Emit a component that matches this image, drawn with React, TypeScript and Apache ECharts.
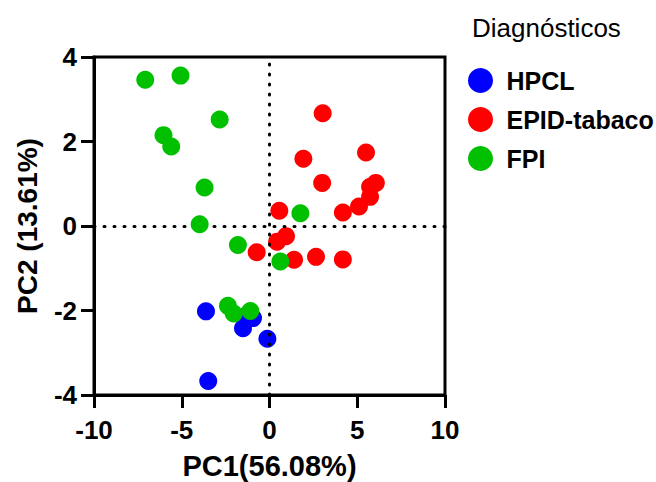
import React, { useEffect, useRef } from "react";
import * as echarts from "echarts";

const seriesNames = ["HPCL", "EPID-tabaco", "FPI"];
const seriesColors = ["#0000FF", "#FF0000", "#00C000"];

const hpclX = [-3.62, -3.49, -1.51, -0.94, -1.25, -0.12];
const hpclY = [-2.02, -3.67, -2.42, -2.18, -2.1, -2.67];

const epidX = [3.03, 5.5, 1.93, 3.0, 6.06, 5.73, 5.73, 5.1, 4.18, 0.56, 0.94, 0.43, -0.73, 1.4, 2.65, 4.18];
const epidY = [2.67, 1.74, 1.59, 1.02, 1.02, 0.93, 0.69, 0.46, 0.32, 0.36, -0.24, -0.37, -0.62, -0.8, -0.73, -0.79];

const fpiX = [-7.08, -5.07, -2.84, -6.04, -5.6, -3.7, -3.98, -1.8, 1.76, 0.62, -2.37, -2.04, -1.09];
const fpiY = [3.46, 3.56, 2.52, 2.15, 1.88, 0.91, 0.04, -0.45, 0.3, -0.84, -1.89, -2.07, -2.01];

const xTicks = { min: -10, max: 10, interval: 5 };
const yTicks = { min: -4, max: 4, interval: 2 };

const FONT = "'Liberation Sans', Arial, sans-serif";
const CHART_W = 720;

function zip(xs: number[], ys: number[]) {
  return xs.map((x, i) => [x, ys[i]]);
}

export default function App() {
  const ref = useRef<HTMLDivElement>(null);
  useEffect(() => {
    if (!ref.current) return;
    const chart = echarts.init(ref.current, null, { renderer: "svg" });
    const datas = [zip(hpclX, hpclY), zip(epidX, epidY), zip(fpiX, fpiY)];
    const series: any[] = datas.map((d, i) => ({
      name: seriesNames[i],
      type: "scatter",
      data: d,
      symbol: "circle",
      symbolSize: 18,
      itemStyle: { color: seriesColors[i], opacity: 1 },
      z: 3 + i,
    }));
    series.push({
      type: "scatter",
      data: [],
      silent: true,
      z: 1,
      markLine: {
        silent: true,
        symbol: ["none", "none"],
        label: { show: false },
        lineStyle: { color: "#000", width: 3, type: [1, 9], cap: "round" },
        data: [{ xAxis: 0 }, { yAxis: 0 }],
      },
    });
    chart.setOption({
      animation: false,
      textStyle: { fontFamily: FONT },
      title: {
        text: "Diagnósticos",
        left: 467,
        top: 10,
        textStyle: { fontFamily: FONT, fontSize: 26, fontWeight: "normal", color: "#000" },
      },
      legend: {
        data: seriesNames,
        orient: "vertical",
        left: 468,
        top: 68,
        padding: 0,
        itemWidth: 42,
        itemHeight: 25,
        itemGap: 14,
        icon: "circle",
        textStyle: { fontFamily: FONT, fontSize: 25, fontWeight: "bold", color: "#000" },
      },
      grid: {
        left: 94,
        right: CHART_W - 445,
        top: 57,
        bottom: 87,
        show: true,
        borderColor: "#000",
        borderWidth: 3,
        containLabel: false,
        outerBoundsMode: "none",
      },
      xAxis: {
        type: "value",
        min: xTicks.min,
        max: xTicks.max,
        interval: xTicks.interval,
        name: "PC1(56.08%)",
        nameLocation: "middle",
        nameGap: 56,
        nameTextStyle: { fontFamily: FONT, fontSize: 29, fontWeight: "bold", color: "#000" },
        axisLine: { show: true, onZero: false, lineStyle: { color: "#000", width: 3 } },
        axisTick: { show: true, length: 13, lineStyle: { color: "#000", width: 3 } },
        axisLabel: { fontFamily: FONT, fontSize: 26, fontWeight: "bold", color: "#000", margin: 22 },
        splitLine: { show: false },
      },
      yAxis: {
        type: "value",
        min: yTicks.min,
        max: yTicks.max,
        interval: yTicks.interval,
        name: "PC2 (13.61%)",
        nameLocation: "middle",
        nameGap: 53,
        nameTextStyle: { fontFamily: FONT, fontSize: 28, fontWeight: "bold", color: "#000" },
        axisLine: { show: true, onZero: false, lineStyle: { color: "#000", width: 3 } },
        axisTick: { show: true, length: 13, lineStyle: { color: "#000", width: 3 } },
        axisLabel: { fontFamily: FONT, fontSize: 26, fontWeight: "bold", color: "#000", margin: 17 },
        splitLine: { show: false },
      },
      series,
    });
    return () => chart.dispose();
  }, []);
  return (
    <div
      style={{ position: "absolute", left: 0, top: 0, width: 656, height: 482, overflow: "hidden" }}
    >
      <div ref={ref} style={{ width: CHART_W, height: 482 }} />
    </div>
  );
}
